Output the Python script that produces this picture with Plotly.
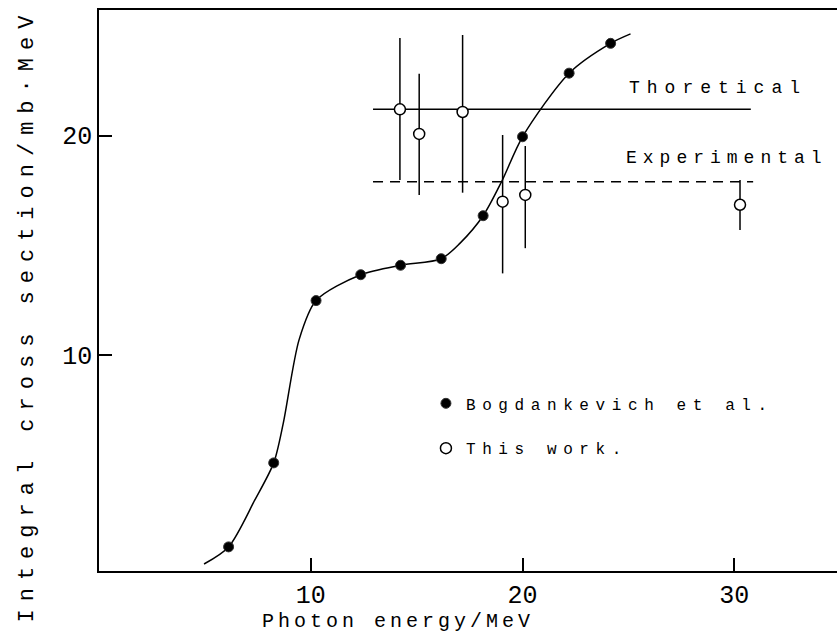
import plotly.graph_objects as go

# Bogdankevich et al. (filled points)
bog_x = [6.12, 8.25, 10.25, 12.36, 14.24, 16.16, 18.14, 20.0, 22.2, 24.16]
bog_y = [1.25, 5.08, 12.48, 13.66, 14.09, 14.39, 16.35, 19.95, 22.85, 24.21]

# smooth curve through the data
curve_x = [4.96, 6.12, 7.36, 8.25, 8.70, 9.45, 10.25, 12.36, 14.24, 16.16, 17.04, 18.14, 19.01, 20.0, 22.2, 24.16, 25.1]
curve_y = [0.47, 1.25, 3.39, 5.08, 6.88, 10.7, 12.48, 13.66, 14.09, 14.39, 15.09, 16.35, 17.90, 19.95, 22.85, 24.21, 24.64]

# This work (open points with error bars)
tw_x = [14.21, 15.12, 17.17, 19.06, 20.13, 30.27]
tw_y = [21.2, 20.08, 21.08, 16.99, 17.3, 16.85]
tw_err_up = [3.25, 2.74, 3.51, 3.04, 2.23, 1.13]
tw_err_dn = [3.22, 2.78, 3.68, 3.27, 2.43, 1.15]

# reference levels
theo_x = [12.94, 30.78]
theo_y = [21.2, 21.2]
expt_x = [12.94, 30.89]
expt_y = [17.9, 17.9]

FONT = "Liberation Mono"

def spaced(t, px):
    return '<span style="letter-spacing:%spx">%s</span>' % (px, t)

fig = go.Figure()
fig.add_trace(go.Scatter(x=curve_x, y=curve_y, mode="lines",
                         line=dict(color="black", width=1.5, shape="spline", smoothing=0.8),
                         showlegend=False, hoverinfo="skip"))
fig.add_trace(go.Scatter(x=theo_x, y=theo_y, mode="lines",
                         line=dict(color="black", width=1.5), showlegend=False))
fig.add_trace(go.Scatter(x=expt_x, y=expt_y, mode="lines",
                         line=dict(color="black", width=1.5, dash="10px,7px"), showlegend=False))
fig.add_trace(go.Scatter(x=bog_x, y=bog_y, mode="markers",
                         name=spaced("Bogdankevich et al.", 6.6), legendgroup="a",
                         marker=dict(symbol="circle", size=10, color="black",
                                     line=dict(color="#333", width=1))))
fig.add_trace(go.Scatter(x=tw_x, y=tw_y, mode="markers",
                         name=spaced("This work.", 6.6), legendgroup="b",
                         marker=dict(symbol="circle", size=11, color="white",
                                     line=dict(color="black", width=1.5)),
                         error_y=dict(type="data", symmetric=False, array=tw_err_up,
                                      arrayminus=tw_err_dn, width=0, thickness=1.5,
                                      color="black")))

fig.add_annotation(x=24.93, y=22.18, xref="x", yref="y", text=spaced("Thoretical", 7),
                   showarrow=False, xanchor="left", yanchor="middle",
                   font=dict(family=FONT, size=18, color="black"))
fig.add_annotation(x=24.8, y=18.98, xref="x", yref="y", text=spaced("Experimental", 6),
                   showarrow=False, xanchor="left", yanchor="middle",
                   font=dict(family=FONT, size=18, color="black"))
fig.add_annotation(x=0, y=0, xref="paper", yref="paper", xshift=299, yshift=-50,
                   text=spaced("Photon energy/MeV", 4), showarrow=False,
                   xanchor="center", yanchor="middle",
                   font=dict(family=FONT, size=20, color="black"))
fig.add_annotation(x=0, y=0.5, xref="paper", yref="paper", xshift=-72, yshift=-25,
                   text=spaced("Integral cross section/mb·MeV", 8), showarrow=False,
                   textangle=-90, xanchor="center", yanchor="middle",
                   font=dict(family=FONT, size=22, color="black"))

fig.update_layout(
    width=837, height=642,
    margin=dict(l=99, r=0, t=10, b=71),
    paper_bgcolor="white", plot_bgcolor="white",
    showlegend=True,
    legend=dict(x=0.443, y=0.329, xanchor="left", yanchor="top",
                bgcolor="rgba(0,0,0,0)", traceorder="grouped", tracegroupgap=21,
                font=dict(family=FONT, size=16, color="black")),
    xaxis=dict(range=[0, 34.85], showgrid=False, zeroline=False, showline=True,
               linecolor="black", linewidth=1.5, mirror=True,
               ticks="inside", ticklen=13, tickwidth=1.5, tickcolor="black",
               tickvals=[10, 20, 30], ticktext=["10", "20", "30"],
               tickfont=dict(family=FONT, size=25, color="black")),
    yaxis=dict(range=[0.15, 25.73], showgrid=False, zeroline=False, showline=True,
               linecolor="black", linewidth=1.5, mirror=False,
               ticks="inside", ticklen=13, tickwidth=1.5, tickcolor="black",
               tickvals=[10, 20], ticktext=["10", "20"],
               tickfont=dict(family=FONT, size=25, color="black")),
)

fig.write_html("out.html")
